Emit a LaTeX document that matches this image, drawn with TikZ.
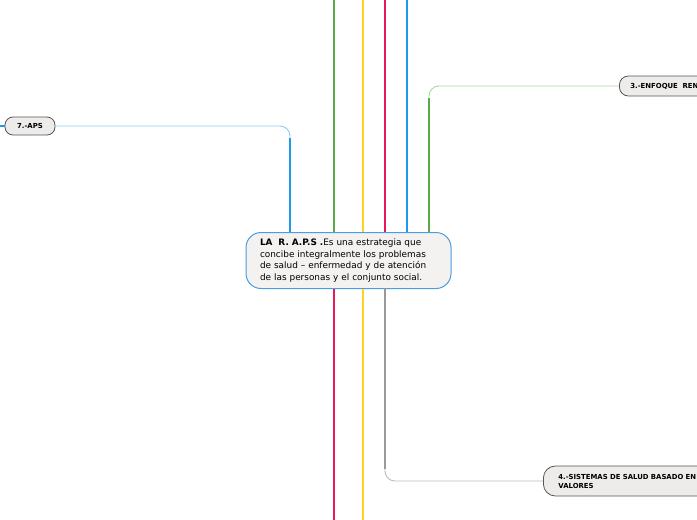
\documentclass[tikz,border=0pt]{standalone}
\usepackage{fontspec}
\setmainfont{DejaVu Sans}
\definecolor{cgreen}{HTML}{5AAA46}
\definecolor{cgreenl}{HTML}{A8D89C}
\definecolor{cyellow}{HTML}{FFD21F}
\definecolor{cred}{HTML}{E8195A}
\definecolor{cblue}{HTML}{1E9BE8}
\definecolor{cbluel}{HTML}{8CCBF2}
\definecolor{cgray}{HTML}{999999}
\definecolor{cgrayl}{HTML}{BBBBBB}
\definecolor{mainfill}{HTML}{F4F2F1}
\definecolor{mainborder}{HTML}{4A9DE0}
\definecolor{subfill}{HTML}{EEECEA}
\definecolor{subborder}{HTML}{555555}
\tikzset{
  mainbox/.style={draw=mainborder, fill=mainfill, line width=1pt, rounded corners=15pt,
    minimum width=205pt, minimum height=56pt, text width=177pt, inner xsep=14pt,
    align=left, font=\fontsize{8.9}{11.4}\selectfont},
  subbox/.style={draw=subborder, fill=subfill, line width=0.8pt, rounded corners=8pt,
    font=\fontsize{6.9}{9}\selectfont\bfseries, align=left},
  thickline/.style={line width=2.6pt},
  thinline/.style={line width=0.9pt, rounded corners=10pt},
}
\begin{document}
\begin{tikzpicture}[x=1pt,y=-1pt]
\useasboundingbox (0,0) rectangle (697,520);
\clip (0,0) rectangle (697,520);
% nodes
\node[mainbox] (c) at (348.5,260.5) {\textbf{LA\ \ R. A.P.S .}Es una estrategia que\\concibe integralmente los problemas\\de salud – enfermedad y de atención\\de las personas y el conjunto social.};
\node[subbox, minimum width=50pt, minimum height=18pt, align=center] (aps) at (30,126) {7.-APS};
\node[subbox, anchor=west, text width=100pt, minimum height=20pt, inner xsep=11pt, rounded corners=9pt] (enf) at (619,86) {3.-ENFOQUE\ \ REN};
\node[subbox, anchor=west, text width=170pt, minimum height=30pt, inner xsep=15pt, rounded corners=12pt] (sis) at (543,481) {4.-SISTEMAS DE SALUD BASADO EN\\VALORES};
% free ends and junctions
\coordinate (t1) at (334,0);
\coordinate (t2) at (363,0);
\coordinate (t3) at (385,0);
\coordinate (t4) at (407,0);
\coordinate (b1) at (334,520);
\coordinate (b2) at (363,520);
\coordinate (lft) at (0,126);
\coordinate (bj) at (290,232);
\coordinate (gj) at (429,232);
\coordinate (gr) at (385,288);
% top lines
\draw[thickline, cgreen] (t1 |- c.north) -- (t1);
\draw[thickline, cyellow] (t2 |- c.north) -- (t2);
\draw[thickline, cred] (t3 |- c.north) -- (t3);
\draw[thickline, cblue] (t4 |- c.north) -- (t4);
% bottom lines
\draw[thickline, cred] (b1 |- c.south) -- (b1);
\draw[thickline, cyellow] (b2 |- c.south) -- (b2);
% branch to 7.-APS
\draw[thinline, cbluel] (aps.east) -| (bj);
\draw[thickline, cblue] (bj) -- (290,138);
\draw[line width=1.2pt, cblue] (aps.west) -- (lft);
% branch to 3
\draw[thinline, cgreenl] (enf.west) -| (gj);
\draw[thickline, cgreen] (gj) -- (429,98);
% branch to 4
\draw[thinline, cgrayl] (sis.west) -| (gr);
\draw[thickline, cgray] (gr) -- (385,469);
\end{tikzpicture}
\end{document}
